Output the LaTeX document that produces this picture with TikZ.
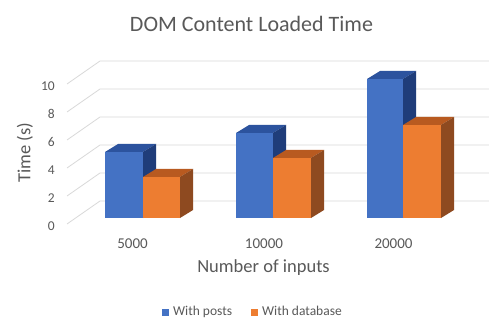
\documentclass[tikz,border=0pt]{standalone}
\usepackage{fontspec}
\setmainfont{Carlito}
\definecolor{txt}{HTML}{595959}
\definecolor{grid}{HTML}{D9D9D9}
\definecolor{bfront}{HTML}{4472C4}
\definecolor{btop}{HTML}{2C539E}
\definecolor{bside}{HTML}{1F3D7A}
\definecolor{ofront}{HTML}{ED7D31}
\definecolor{otop}{HTML}{B85A20}
\definecolor{oside}{HTML}{8E4A20}
\newcommand\prism[6]{%
  \fill[#4] (#1,218) rectangle (#2,#3);
  \fill[#5] (#1,#3) -- (#1+13,#3-8) -- (#2+13,#3-8) -- (#2,#3) -- cycle;
  \fill[#6] (#2,218) -- (#2,#3) -- (#2+13,#3-8) -- (#2+13,210) -- cycle;
}
\begin{document}
\begin{tikzpicture}[x=1pt,y=-1pt,
  gridline/.style={grid,line width=0.8pt},
  ticklab/.style={text=txt,font=\fontsize{13.5}{13.5}\selectfont,anchor=east,inner sep=0pt},
  catlab/.style={text=txt,font=\fontsize{15}{15}\selectfont,inner sep=0pt},
  legtext/.style={text=txt,font=\fontsize{13.5}{13.5}\selectfont,anchor=west,inner sep=0pt}]
\useasboundingbox[fill=white] (0,0) rectangle (489,320);
% gridlines
\foreach \v [count=\i from 0] in {0,2,4,6,8,10}{
  \pgfmathsetmacro\yb{201-14*\v}
  \draw[gridline] (67,\yb+23) -- (100,\yb) -- (489,\yb);
  \node[ticklab] (t\i) at (55,\yb+25) {\v};
}
% bars
\prism{105}{143}{152}{bfront}{btop}{bside}
\prism{143}{180}{177}{ofront}{otop}{oside}
\prism{236}{273}{133}{bfront}{btop}{bside}
\prism{273}{311}{158}{ofront}{otop}{oside}
\prism{367}{403}{79}{bfront}{btop}{bside}
\prism{403}{441}{125}{ofront}{otop}{oside}
% category labels
\node[catlab] (c1) at (132.5,244) {5000};
\node[catlab] (c2) at (264,244) {10000};
\node[catlab] (c3) at (393.5,244) {20000};
% titles
\node[text=txt,font=\fontsize{22}{22}\selectfont,inner sep=0pt] (title) at (251.5,24) {DOM Content Loaded Time};
\node[text=txt,font=\fontsize{18.5}{18.5}\selectfont,inner sep=0pt] (xtitle) at (263.5,268) {Number of inputs};
\node[text=txt,font=\fontsize{18.5}{18.5}\selectfont,inner sep=0pt,rotate=90] (ytitle) at (25,153) {Time (s)};
% legend
\fill[bfront] (162,308.5) rectangle (169,315.5);
\node[legtext,anchor=base west] (l1) at (173,315.5) {With posts};
\fill[ofront] (251,308.5) rectangle (258,315.5);
\node[legtext,anchor=base west] (l2) at (262,315.5) {With database};
\end{tikzpicture}
\end{document}
